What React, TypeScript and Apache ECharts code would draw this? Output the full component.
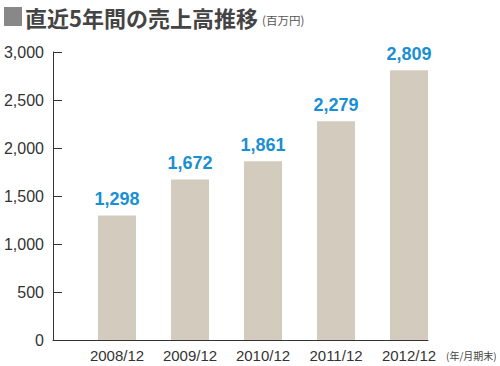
import React, { useEffect, useRef } from "react";
import * as echarts from "echarts";

const categories = ["2008/12", "2009/12", "2010/12", "2011/12", "2012/12"];
const sales = [1298, 1672, 1861, 2279, 2809];
const yTicks = [0, 500, 1000, 1500, 2000, 2500, 3000];
const titleText = "直近5年間の売上高推移";
const unitText = "(百万円)";
const xUnitText = "(年/月期末)";

const FONT = "'Noto Sans CJK JP', 'Noto Sans', sans-serif";
const LATIN = "'Liberation Sans', Arial, sans-serif";

export default function App() {
  const ref = useRef<HTMLDivElement>(null);
  useEffect(() => {
    if (!ref.current) return;
    const chart = echarts.init(ref.current, undefined, { renderer: "svg" });
    chart.setOption({
      animation: false,
      backgroundColor: "#ffffff",
      textStyle: { fontFamily: FONT },
      grid: [
        { left: 80.5, width: 365, top: 52, bottom: 26 },
        { left: 53, right: 72, top: 52, bottom: 26 },
      ],
      xAxis: [
        {
          type: "category",
          gridIndex: 0,
          data: categories,
          axisLine: { show: false },
          axisTick: { show: false },
          axisLabel: { color: "#333", fontSize: 15, margin: 8, fontFamily: LATIN },
        },
        {
          type: "value",
          gridIndex: 1,
          min: 0,
          max: 1,
          axisLine: { show: true, lineStyle: { color: "#333", width: 1 } },
          axisTick: { show: false },
          axisLabel: { show: false },
          splitLine: { show: false },
        },
      ],
      yAxis: [
        {
          type: "value",
          gridIndex: 0,
          min: 0,
          max: 3000,
          interval: 500,
          show: false,
          splitLine: { show: false },
        },
        {
          type: "value",
          gridIndex: 1,
          min: yTicks[0],
          max: yTicks[yTicks.length - 1],
          interval: 500,
          axisLine: { show: true, lineStyle: { color: "#333", width: 1 } },
          axisTick: { show: true, inside: true, length: 9, lineStyle: { color: "#333" } },
          axisLabel: {
            color: "#333",
            fontSize: 16,
            margin: 9,
            fontFamily: LATIN,
            formatter: (v: number) => v.toLocaleString("en-US"),
          },
          splitLine: { show: false },
        },
      ],
      series: [
        {
          type: "bar",
          xAxisIndex: 0,
          yAxisIndex: 0,
          data: sales,
          barWidth: 38,
          itemStyle: { color: "#d4cbbf" },
          label: {
            show: true,
            position: "top",
            distance: 7,
            color: "#1a8fd3",
            fontSize: 18,
            fontWeight: "bold",
            fontFamily: LATIN,
            formatter: (p: any) => Number(p.value).toLocaleString("en-US"),
          },
        },
      ],
      graphic: [
        { type: "rect", shape: { x: 4, y: 7, width: 18, height: 19 }, style: { fill: "#888888" } },
        {
          type: "text",
          x: 25,
          y: 16.5,
          style: {
            text: titleText,
            fill: "#444444",
            fontSize: 22,
            fontWeight: "bold",
            fontFamily: FONT,
            verticalAlign: "middle",
          },
        },
        {
          type: "text",
          x: 262,
          y: 19.5,
          style: { text: unitText, fill: "#555", fontSize: 11.5, fontFamily: FONT, verticalAlign: "middle" },
        },
        {
          type: "text",
          x: 446,
          y: 355,
          style: { text: xUnitText, fill: "#444", fontSize: 10, fontFamily: FONT, verticalAlign: "middle" },
        },
      ],
    });
    return () => chart.dispose();
  }, []);
  return <div ref={ref} style={{ width: 500, height: 366, position: "absolute", left: 0, top: 0 }} />;
}
